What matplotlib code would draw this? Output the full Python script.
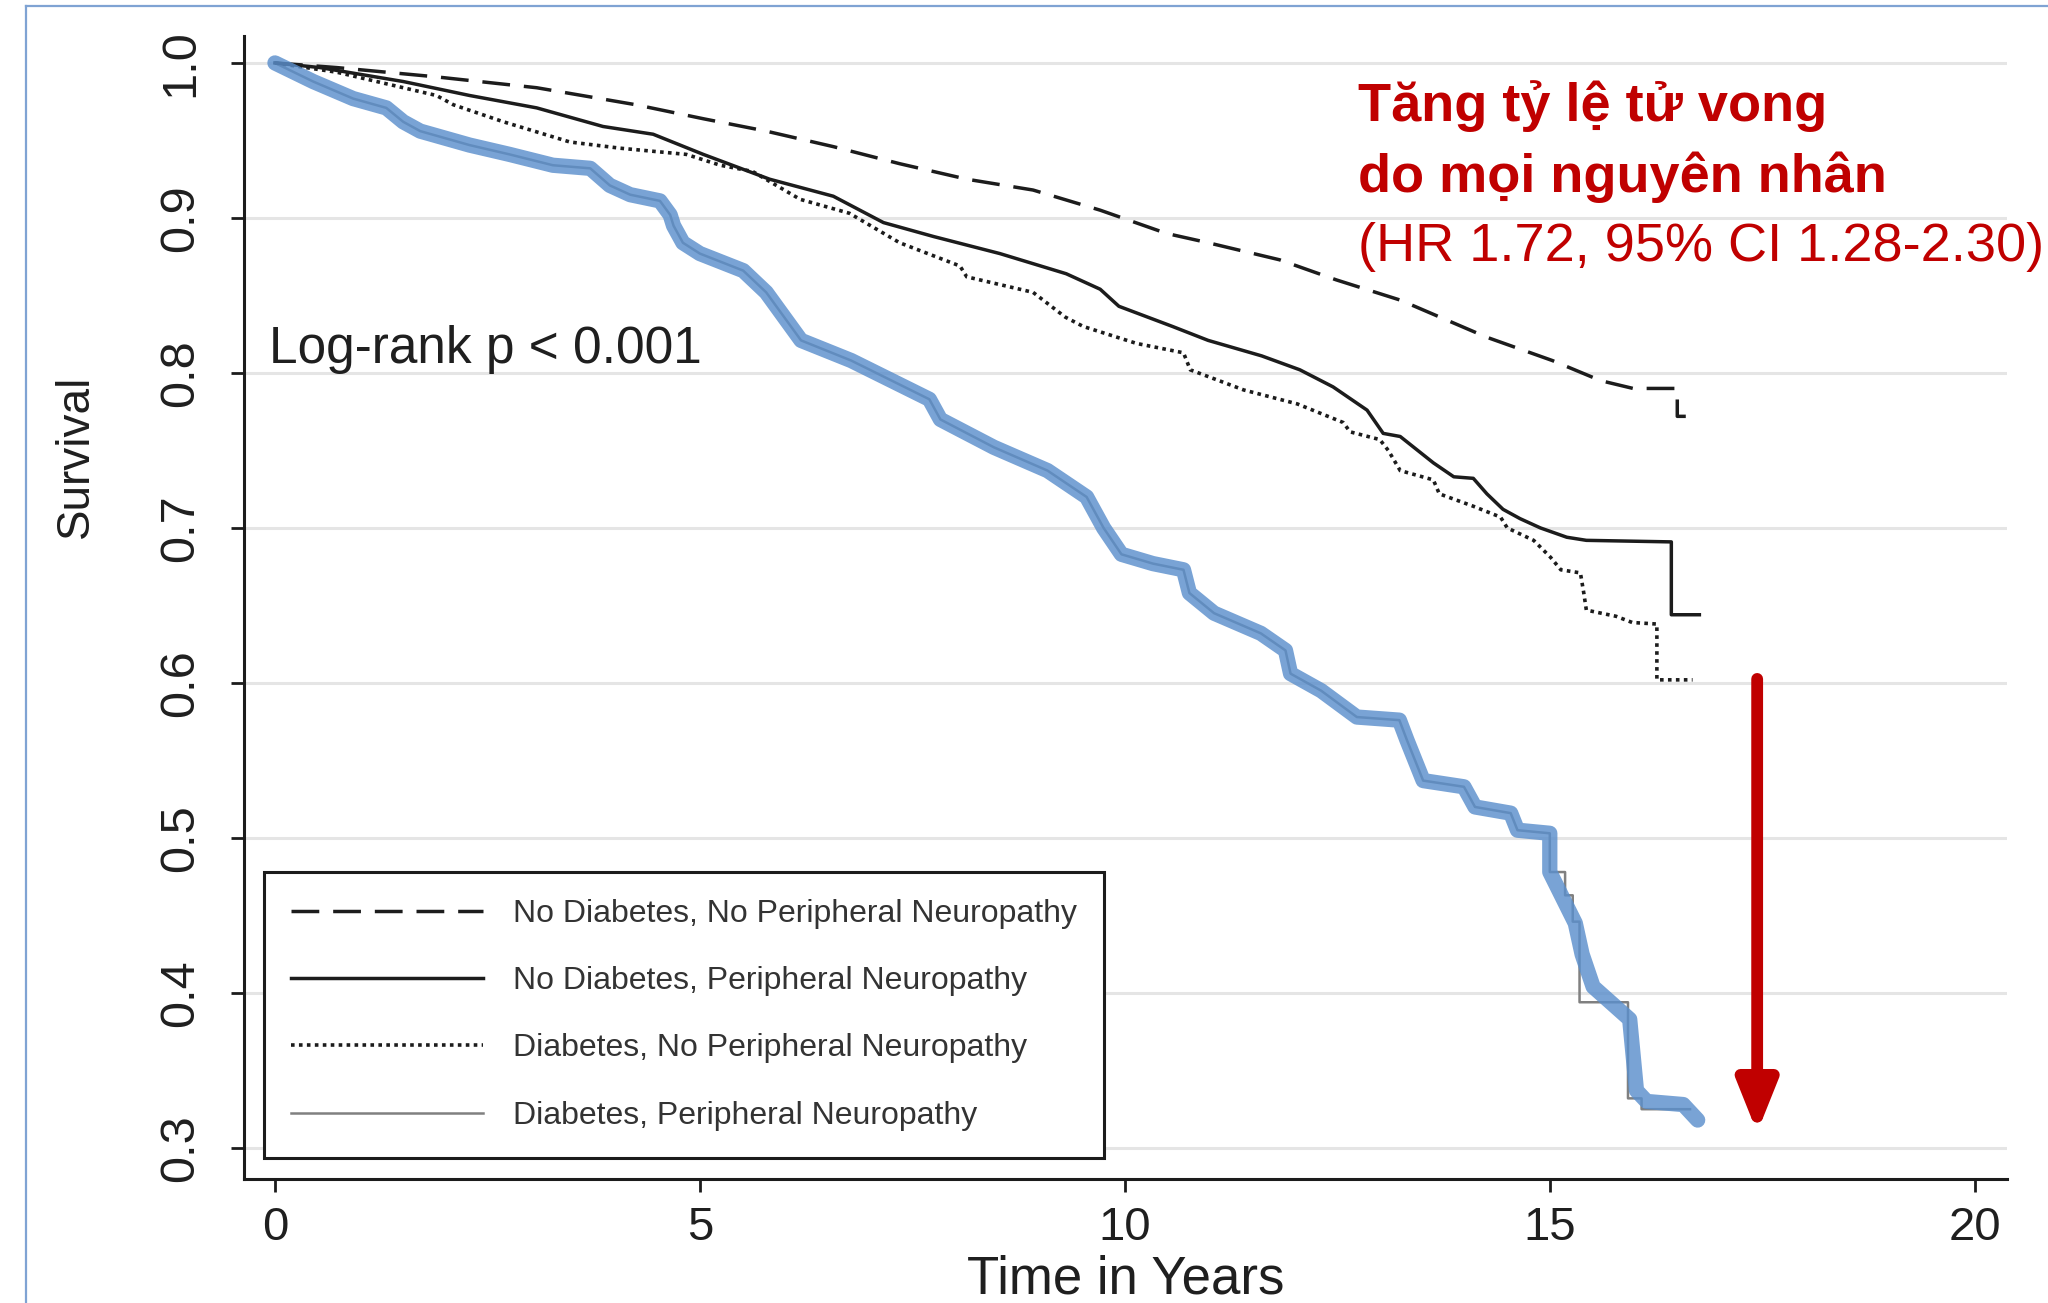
import matplotlib
matplotlib.use("Agg")
import matplotlib.pyplot as plt
from matplotlib.lines import Line2D

plt.rcParams['font.family'] = ['Liberation Sans', 'DejaVu Sans']

# Kaplan-Meier estimates: follow-up time (years) and survival probability
t_nodm_nopn = [0, 0.73, 1.90, 3.08, 4.25, 5.04, 5.78, 6.57, 7.35, 8.14, 8.92, 9.71, 10.49,
               10.98, 11.82, 12.49, 13.24, 14.26, 15.03, 15.6, 15.98, 16.5, 16.5, 16.6]
s_nodm_nopn = [1.0, 0.997, 0.991, 0.984, 0.973, 0.964, 0.956, 0.946, 0.935, 0.925, 0.918,
               0.905, 0.890, 0.884, 0.873, 0.860, 0.847, 0.823, 0.808, 0.795, 0.790, 0.790,
               0.772, 0.772]

t_nodm_pn = [0, 0.53, 1.51, 2.29, 3.08, 3.86, 4.45, 5.04, 5.82, 6.57, 7.16, 7.75, 8.53,
             9.31, 9.71, 9.93, 10.56, 10.98, 11.61, 12.06, 12.45, 12.85, 13.04, 13.24,
             13.63, 13.87, 14.10, 14.26, 14.45, 14.65, 14.89, 15.2, 15.43, 16.43, 16.43, 16.76]
s_nodm_pn = [1.0, 0.997, 0.988, 0.979, 0.971, 0.959, 0.954, 0.941, 0.925, 0.914, 0.897,
             0.888, 0.877, 0.864, 0.854, 0.843, 0.830, 0.821, 0.811, 0.802, 0.791, 0.776,
             0.761, 0.759, 0.742, 0.733, 0.732, 0.722, 0.712, 0.706, 0.700, 0.694, 0.692,
             0.691, 0.644, 0.644]

t_dm_nopn = [0, 0.73, 1.90, 2.10, 2.69, 3.47, 4.06, 4.84, 5.24, 5.62, 6.18, 6.76, 7.35,
             8.06, 8.14, 8.92, 9.30, 9.51, 10.14, 10.69, 10.77, 11.40, 12.03, 12.57, 12.65,
             13.0, 13.1, 13.24, 13.63, 13.7, 14.1, 14.42, 14.5, 14.81, 15.01, 15.13, 15.36,
             15.4, 15.43, 15.78, 15.97, 16.26, 16.26, 16.68]
s_dm_nopn = [1.0, 0.994, 0.979, 0.973, 0.962, 0.949, 0.945, 0.941, 0.934, 0.930, 0.912,
             0.903, 0.884, 0.869, 0.862, 0.852, 0.836, 0.830, 0.819, 0.813, 0.802, 0.789,
             0.780, 0.768, 0.762, 0.757, 0.750, 0.737, 0.731, 0.722, 0.714, 0.707, 0.700,
             0.692, 0.681, 0.673, 0.671, 0.658, 0.647, 0.643, 0.639, 0.638, 0.602, 0.602]

t_dm_pn = [0, 0.45, 0.92, 1.31, 1.51, 1.71, 2.29, 2.76, 3.27, 3.71, 3.94, 4.18, 4.53, 4.65,
           4.69, 4.80, 5.0, 5.51, 5.78, 6.19, 6.78, 7.70, 7.83, 8.46, 9.09, 9.55, 9.75, 9.96,
           10.33, 10.69, 10.76, 11.05, 11.60, 11.89, 11.95, 12.31, 12.73, 13.23, 13.32, 13.51,
           13.99, 14.12, 14.54, 14.62, 15.0, 15.0, 15.18, 15.18, 15.27, 15.27, 15.35, 15.35,
           15.92, 15.92, 16.08, 16.08, 16.65]
s_dm_pn = [1.0, 0.988, 0.977, 0.971, 0.962, 0.956, 0.947, 0.941, 0.934, 0.932, 0.921, 0.915,
           0.911, 0.902, 0.895, 0.884, 0.877, 0.866, 0.852, 0.821, 0.808, 0.783, 0.770, 0.752,
           0.737, 0.720, 0.700, 0.683, 0.677, 0.673, 0.658, 0.645, 0.632, 0.621, 0.606, 0.595,
           0.578, 0.576, 0.563, 0.537, 0.533, 0.520, 0.516, 0.505, 0.503, 0.478, 0.478, 0.463,
           0.463, 0.446, 0.446, 0.394, 0.394, 0.332, 0.332, 0.325, 0.325]

# hand-drawn highlight band: follows the curve, then its own smoothed tail
band_split_year = 15.18
t_band_tail = [15.3, 15.38, 15.51, 15.94, 16.02, 16.14, 16.57, 16.74]
s_band_tail = [0.445, 0.425, 0.404, 0.383, 0.337, 0.330, 0.328, 0.318]

group_labels = ["No Diabetes, No Peripheral Neuropathy",
                "No Diabetes, Peripheral Neuropathy",
                "Diabetes, No Peripheral Neuropathy",
                "Diabetes, Peripheral Neuropathy"]
x_ticks = [0, 5, 10, 15, 20]
y_ticks = [0.3, 0.4, 0.5, 0.6, 0.7, 0.8, 0.9, 1.0]
y_tick_labels = ["0.3", "0.4", "0.5", "0.6", "0.7", "0.8", "0.9", "1.0"]

DARK = '#1c1c1c'
TEXT = '#1f1f1f'
RED = '#C00000'

fig = plt.figure(figsize=(20.48, 13.03), dpi=100)
ax = fig.add_axes([0.1191, 0.0952, 0.8609, 0.8772])
ax.set_xlim(-0.365, 20.38)
ax.set_ylim(0.28, 1.0174)

# survival curves
ax.plot(t_nodm_nopn, s_nodm_nopn, color=DARK, lw=2.5, linestyle=(0, (8, 4)),
        label=group_labels[0], zorder=4)
ax.plot(t_nodm_pn, s_nodm_pn, color=DARK, lw=2.5, linestyle='-',
        label=group_labels[1], zorder=4)
ax.plot(t_dm_nopn, s_dm_nopn, color=DARK, lw=2.6, linestyle=(0, (1, 1.2)),
        label=group_labels[2], zorder=4)
ax.plot(t_dm_pn, s_dm_pn, color='#808080', lw=1.8,
        label=group_labels[3], zorder=3)

# highlight band over the diabetes + neuropathy curve
band_t = [t for t in t_dm_pn if t < band_split_year] + t_band_tail
band_s = [s for t, s in zip(t_dm_pn, s_dm_pn) if t < band_split_year] + s_band_tail
ax.plot(band_t, band_s, color='#5b8fcc', lw=11, alpha=0.82,
        solid_capstyle='round', solid_joinstyle='round', zorder=5)

# axes styling
ax.set_xticks(x_ticks)
ax.set_yticks(y_ticks)
ax.set_yticklabels(y_tick_labels, rotation=90, va='center')
ax.grid(axis='y', color='#e5e5e5', lw=2.2)
ax.grid(axis='x', visible=False)
ax.set_axisbelow(True)
for side in ('top', 'right'):
    ax.spines[side].set_visible(False)
for side in ('left', 'bottom'):
    ax.spines[side].set_linewidth(2.2)
    ax.spines[side].set_color(DARK)
ax.tick_params(axis='both', length=9.5, width=2, color=DARK,
               labelsize=34, labelcolor=TEXT)
ax.tick_params(axis='y', pad=20, labelsize=35)
ax.tick_params(axis='x', pad=10)

ax.set_ylabel("Survival", fontsize=33, color=TEXT)
ax.yaxis.set_label_coords(-0.083, 0.632)
ax.set_xlabel("Time in Years", fontsize=38, color=TEXT)
ax.xaxis.set_label_coords(0.5, -0.066)

ax.text(-0.07, 0.8065, "Log-rank p < 0.001", fontsize=37, color=TEXT,
        ha='left', va='baseline')

leg = ax.legend(loc='lower left', bbox_to_anchor=(264 / 2048, 1 - 1158 / 1303),
                bbox_transform=fig.transFigure, borderaxespad=0, fontsize=23,
                handlelength=6.0, handletextpad=0.95, labelspacing=1.17,
                borderpad=0.85, fancybox=False, framealpha=1, edgecolor=DARK)
leg.get_frame().set_linewidth(2.2)
for txt in leg.get_texts():
    txt.set_color('#333333')
leg.set_zorder(6)

# red annotation
ax.annotate('', xy=(17.44, 0.31), xytext=(17.44, 0.6026),
            arrowprops=dict(arrowstyle='-|>,head_length=30,head_width=12',
                            lw=8.5, color=RED, mutation_scale=1,
                            shrinkA=0, shrinkB=0))
fig.text(0.6631, 0.9071, "Tăng tỷ lệ tử vong", fontsize=39, fontweight='bold',
         color=RED, ha='left', va='baseline')
fig.text(0.6631, 0.8526, "do mọi nguyên nhân", fontsize=39, fontweight='bold',
         color=RED, ha='left', va='baseline')
fig.text(0.6631, 0.7997, "(HR 1.72, 95% CI 1.28-2.30)", fontsize=39,
         color=RED, ha='left', va='baseline')

# slide frame
frame_kw = dict(color='#7fa3d3', lw=1.6, transform=fig.transFigure)
fig.add_artist(Line2D([26 / 2048, 26 / 2048], [0, 1 - 6 / 1303], **frame_kw))
fig.add_artist(Line2D([26 / 2048, 1], [1 - 6 / 1303, 1 - 6 / 1303], **frame_kw))

fig.savefig("out.png", dpi=100)
